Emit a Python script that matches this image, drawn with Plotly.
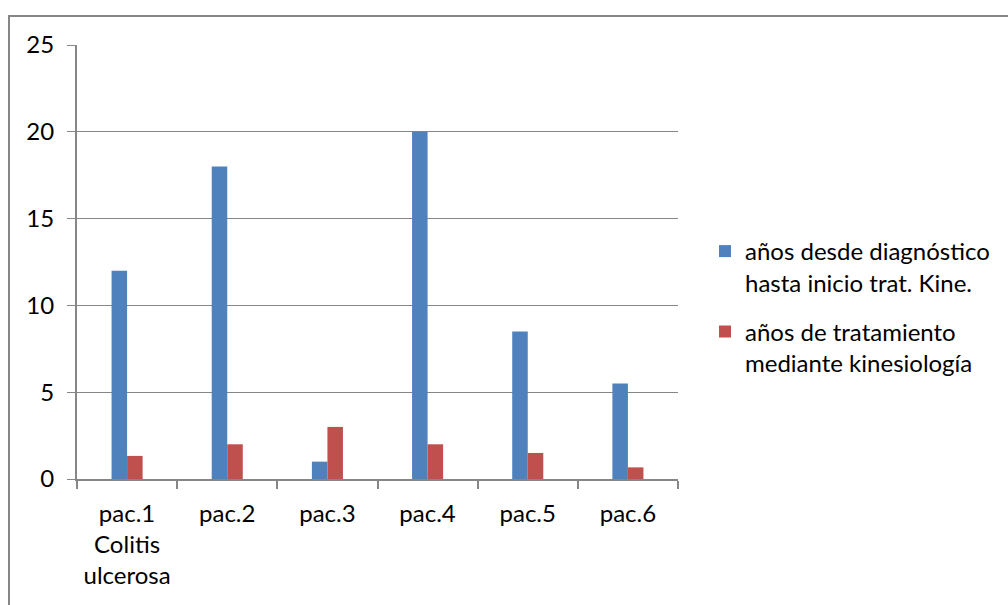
import plotly.graph_objects as go

categories = ["pac.1<br>Colitis<br>ulcerosa", "pac.2", "pac.3", "pac.4", "pac.5", "pac.6"]
series_names = ["años desde diagnóstico<br>hasta inicio trat. Kine.",
                "años de tratamiento<br>mediante kinesiología"]
years_to_treatment = [12, 18, 1, 20, 8.5, 5.5]
years_of_treatment = [1.33, 2, 3, 2, 1.5, 0.67]
colors = ["#4F81BD", "#C0504D"]
y_ticks = [0, 5, 10, 15, 20, 25]

FONT = "Lato"
GRAY = "#868686"

fig = go.Figure()
for name, vals, col in zip(series_names, [years_to_treatment, years_of_treatment], colors):
    fig.add_trace(go.Bar(x=categories, y=vals, name=name, marker_color=col,
                         marker_line_width=0, legendgroup=name))

W, H = 1008, 605
L, R, T, B = 77, 678, 45, 479
fig.update_layout(
    width=W, height=H,
    margin=dict(l=L, r=W - R, t=T, b=H - B, autoexpand=False),
    paper_bgcolor="white", plot_bgcolor="white",
    font=dict(family=FONT, size=24, color="#000000"),
    barmode="group", bargap=0.69, bargroupgap=0,
    showlegend=True,
    legend=dict(x=(705 - L) / (R - L), xanchor="left",
                y=(B - 229) / (B - T), yanchor="top",
                valign="top", traceorder="grouped", tracegroupgap=15,
                font=dict(family=FONT, size=24), bgcolor="rgba(0,0,0,0)"),
)
fig.update_yaxes(range=[0, 25], tickvals=y_ticks, showgrid=True, gridcolor=GRAY, gridwidth=1,
                 showline=True, linecolor=GRAY, linewidth=2, ticks="outside", ticklen=8,
                 tickcolor=GRAY, tickwidth=1, ticklabelstandoff=8, zeroline=False,
                 fixedrange=True)
fig.update_xaxes(showline=True, linecolor=GRAY, linewidth=2, ticks="outside", ticklen=8,
                 tickcolor=GRAY, tickwidth=2, tickson="boundaries", showgrid=False,
                 ticklabelstandoff=12, fixedrange=True)

# outer chart border (extends past right and bottom edges of the picture)
px = lambda v: (v - L) / (R - L)
py = lambda v: (B - v) / (B - T)
fig.add_shape(type="rect", xref="paper", yref="paper",
              x0=px(9), x1=px(1020), y0=py(620), y1=py(16),
              line=dict(color=GRAY, width=2), fillcolor="rgba(0,0,0,0)", layer="below")

fig.write_html("out.html")
